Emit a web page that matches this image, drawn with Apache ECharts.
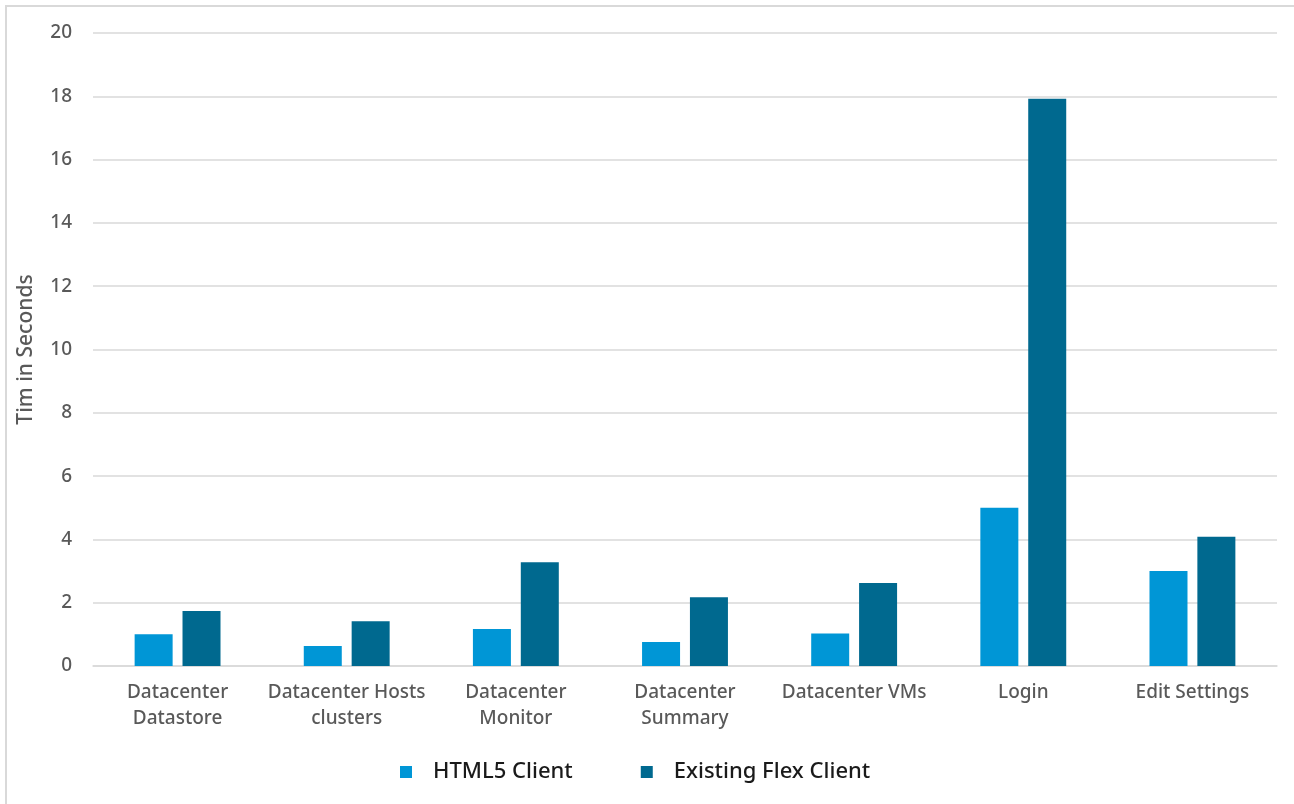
<!DOCTYPE html>
<html>
<head>
<meta charset="utf-8">
<script src="https://cdn.jsdelivr.net/npm/echarts@6/dist/echarts.min.js"></script>
<style>
html,body{margin:0;padding:0;background:#fff;overflow:hidden;}
#frame{position:absolute;left:5px;top:5px;width:1310px;height:820px;border-top:2px solid #d9d9d9;border-left:2px solid #d9d9d9;box-sizing:border-box;}
#chart{position:absolute;left:0;top:0;width:1294px;height:804px;}
</style>
</head>
<body>
<div id="frame"></div>
<div id="chart"></div>
<script>
const categories = ['Datacenter\nDatastore','Datacenter Hosts\nclusters','Datacenter\nMonitor','Datacenter\nSummary','Datacenter VMs','Login','Edit Settings'];
const seriesNames = ['HTML5 Client','Existing Flex Client'];
const html5Values = [1.0, 0.63, 1.17, 0.76, 1.03, 5.0, 3.0];
const flexValues = [1.74, 1.41, 3.28, 2.17, 2.62, 17.92, 4.08];
const colors = ['#0096d6','#00698f'];
const yTicks = {min:0, max:20, interval:2};
const FONT = '"Noto Sans", sans-serif';

const chart = echarts.init(document.getElementById('chart'), null, {renderer:'canvas'});
chart.setOption({
  animation:false,
  backgroundColor:'transparent',
  textStyle:{fontFamily:FONT},
  grid:{left:93, right:17, top:33, bottom:138},
  legend:{
    left:395, top:756, itemWidth:12, itemHeight:12, itemGap:68, icon:'rect',
    textStyle:{fontFamily:FONT, fontSize:22, fontWeight:500, color:'#1a1a1a', padding:[0,0,0,16]},
    data:seriesNames
  },
  xAxis:{
    type:'category', data:categories,
    axisLine:{show:true, lineStyle:{color:'#d9d9d9', width:1.5}},
    axisTick:{show:false},
    axisLabel:{fontFamily:FONT, fontSize:19, fontWeight:500, color:'#595959', lineHeight:26, margin:14, interval:0}
  },
  yAxis:{
    type:'value', min:yTicks.min, max:yTicks.max, interval:yTicks.interval,
    name:'Tim in Seconds', nameLocation:'middle', nameGap:56, nameRotate:90,
    nameTextStyle:{fontFamily:FONT, fontSize:21, fontWeight:500, color:'#595959'},
    axisLine:{show:false}, axisTick:{show:false},
    axisLabel:{fontFamily:FONT, fontSize:19, fontWeight:500, color:'#595959', margin:21},
    splitLine:{lineStyle:{color:'#d9d9d9', width:1.5}}
  },
  series:[
    {name:seriesNames[0], type:'bar', data:html5Values, barWidth:38, barGap:'26%', itemStyle:{color:colors[0]}},
    {name:seriesNames[1], type:'bar', data:flexValues, barWidth:38, barGap:'26%', itemStyle:{color:colors[1]}}
  ]
});
</script>
</body>
</html>
